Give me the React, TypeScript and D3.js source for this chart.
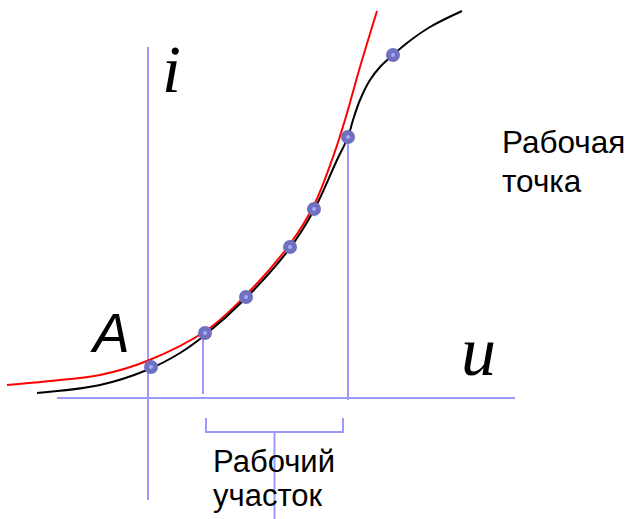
import React from "react";
import * as d3 from "d3";

// Characteristic curve i(u) (black), approximating exponential (red), working points
const blackU = [-1.11, -0.48, -0.01, 0.32, 0.57, 0.98, 1.42, 1.66, 1.89, 2.0, 2.05, 2.12, 2.22, 2.32, 2.45, 2.59, 2.82, 3.14];
const blackI = [0.05, 0.13, 0.28, 0.45, 0.63, 1.0, 1.5, 1.88, 2.38, 2.61, 2.78, 2.98, 3.18, 3.31, 3.43, 3.55, 3.71, 3.87];
const redU = [-1.41, -0.88, -0.48, -0.01, 0.59, 0.98, 1.42, 1.66, 1.85, 1.97, 2.12, 2.29];
const redI = [0.13, 0.18, 0.23, 0.37, 0.68, 1.03, 1.54, 1.93, 2.41, 2.78, 3.31, 3.87];
const pointU = [0.03, 0.57, 0.98, 1.42, 1.66, 2.0, 2.45];
const pointI = [0.31, 0.65, 1.01, 1.51, 1.89, 2.61, 3.43];

export default function App() {
  const W = 626, H = 519;
  const x = d3.scaleLinear().domain([0, 1]).range([148, 248]);
  const y = d3.scaleLinear().domain([0, 1]).range([398, 298]);
  const line = d3
    .line<[number, number]>()
    .x((d) => x(d[0]))
    .y((d) => y(d[1]))
    .curve(d3.curveCatmullRom.alpha(0.5));
  const black = blackU.map((u, k) => [u, blackI[k]] as [number, number]);
  const red = redU.map((u, k) => [u, redI[k]] as [number, number]);
  const pts = pointU.map((u, k) => [u, pointI[k]] as [number, number]);
  const axis = "#9999ff";
  const bl = x(0.58), br = x(1.95), bm = (bl + br) / 2;
  return (
    <svg width={W} height={H} style={{ position: "absolute", left: 0, top: 0 }}>
      <rect width={W} height={H} fill="#fff" />
      {/* axes */}
      <line x1={x(-0.91)} x2={x(3.67)} y1={y(0)} y2={y(0)} stroke={axis} strokeWidth={2} />
      <line x1={x(0)} x2={x(0)} y1={y(3.51)} y2={y(-1.02)} stroke={axis} strokeWidth={2} />
      {/* working range verticals */}
      <line x1={x(pointU[1]) - 2} x2={x(pointU[1]) - 2} y1={y(pointI[1])} y2={y(0.04)} stroke={axis} strokeWidth={2} />
      <line x1={x(pointU[5])} x2={x(pointU[5])} y1={y(pointI[5])} y2={y(-0.02)} stroke={axis} strokeWidth={2} />
      {/* bracket */}
      <path
        d={`M${bl},${y(-0.2)} V${y(-0.34)} H${br} V${y(-0.2)}`}
        fill="none"
        stroke={axis}
        strokeWidth={2}
      />
      <line x1={bm} x2={bm} y1={y(-0.34)} y2={y(-1.21)} stroke={axis} strokeWidth={2} />
      {/* curves */}
      <path d={line(red) || ""} fill="none" stroke="#ff0000" strokeWidth={2} />
      <path d={line(black) || ""} fill="none" stroke="#000" strokeWidth={2} />
      {pts.map((p, k) => (
        <g key={k}>
          <circle cx={x(p[0])} cy={y(p[1])} r={7} fill="#7070c0" />
          <circle cx={x(p[0])} cy={y(p[1])} r={2} fill="#a8a8ff" />
        </g>
      ))}
      {/* labels */}
      <text x={93} y={352} fontFamily="Liberation Sans, Arial, sans-serif" fontStyle="italic" fontSize={55} fill="#000">A</text>
      <text x={162} y={92} fontFamily="Liberation Serif, Times New Roman, serif" fontStyle="italic" fontSize={68} fill="#000">i</text>
      <text x={461} y={375} fontFamily="Liberation Serif, Times New Roman, serif" fontStyle="italic" fontSize={70} fill="#000">u</text>
      <g fontFamily="Liberation Sans, Arial, sans-serif" fill="#000">
        <text x={502} y={153} fontSize={31.5}>Рабочая</text>
        <text x={502} y={192} fontSize={31.5}>точка</text>
        <text x={213} y={472} fontSize={31}>Рабочий</text>
        <text x={213} y={506} fontSize={31}>участок</text>
      </g>
    </svg>
  );
}
